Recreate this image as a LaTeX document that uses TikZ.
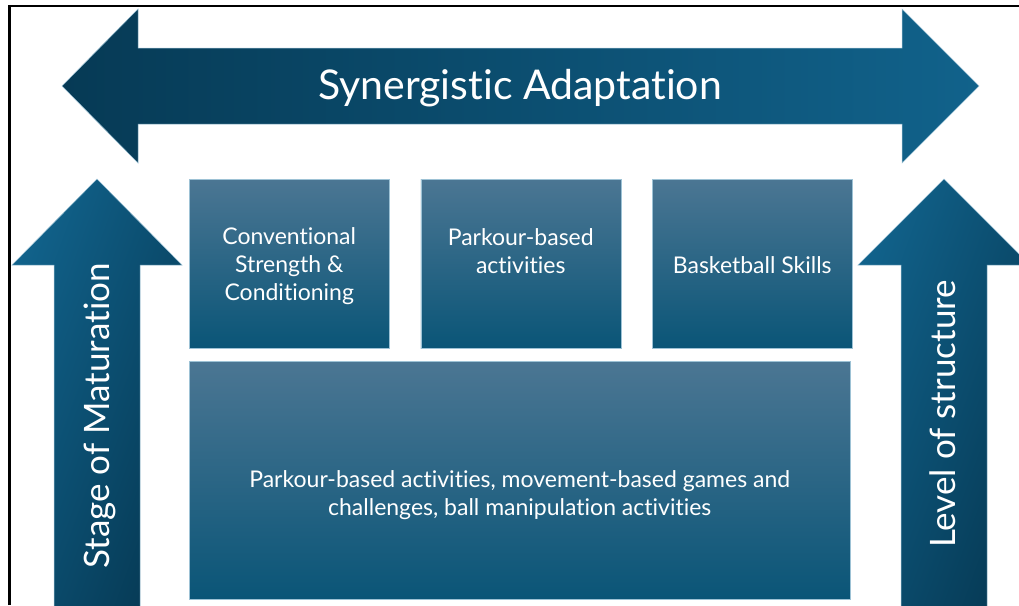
\documentclass[tikz,border=0pt]{standalone}
\usepackage{fontspec}
\setmainfont{Lato}[Ligatures=NoCommon]
\usetikzlibrary{positioning}

\definecolor{navydark}{HTML}{063A55}
\definecolor{navylight}{HTML}{11628B}
\definecolor{boxtop}{HTML}{4B7693}
\definecolor{boxbottom}{HTML}{0A5577}
\definecolor{edgeblue}{HTML}{9DC2D5}

\begin{document}
\begin{tikzpicture}[x=1pt, y=-1pt,
        bigarrow/.style={draw=edgeblue, line width=0.5pt},
        block/.style={draw=edgeblue, line width=0.5pt, top color=boxtop, bottom color=boxbottom,
            anchor=north west, inner sep=0pt},
        blocktext/.style={text=white, align=center, font=\fontsize{23}{28}\selectfont},
        arrowtext/.style={text=white, anchor=base, font=\fontsize{35}{40}\selectfont}
    ]
    \useasboundingbox (0,0) rectangle (1019,605);

    % frame
    \draw[line width=2.2pt] (9.5,605) -- (9.5,6) -- (1019,6);

    % double arrow on top
    \shade[bigarrow, left color=navydark, right color=navylight]
        (62,86) -- (138,9) -- (138,48) -- (902,48) -- (902,9) -- (979,86)
        -- (902,163) -- (902,124) -- (138,124) -- (138,163) -- cycle;
    \node[arrowtext, font=\fontsize{41}{46}\selectfont] (adaptation) at (520,99) {Synergistic Adaptation};

    % up arrows at the sides
    \shade[bigarrow, top color=navylight, bottom color=navydark, shading angle=70]
        (97,179) -- (182,265) -- (140,265) -- (140,615) -- (54,615) -- (54,265) -- (12,265) -- cycle;
    \shade[bigarrow, top color=navylight, bottom color=navydark, shading angle=70]
        (944,179) -- (1030,265) -- (987,265) -- (987,615) -- (901,615) -- (901,265) -- (858,265) -- cycle;
    \node[arrowtext, rotate=90] (maturation) at (109,416) {Stage of Maturation};
    \node[arrowtext, rotate=90] (structure) at (955,414) {Level of structure};

    % blocks
    \node[block, minimum width=200pt, minimum height=169pt] (conditioning) at (189,179) {};
    \node[block, minimum width=200pt, minimum height=169pt, right=31pt of conditioning] (parkour) {};
    \node[block, minimum width=200pt, minimum height=169pt, right=31pt of parkour] (basketball) {};
    \node[block, minimum width=661pt, minimum height=238pt] (games) at (189,361) {};

    \node[blocktext] at ([yshift=-2pt]conditioning.center) {Conventional\\Strength \&\\Conditioning};
    \node[blocktext] at ([yshift=13pt]parkour.center) {Parkour-based\\activities};
    \node[blocktext] at ([yshift=-1pt]basketball.center) {Basketball Skills};
    \node[blocktext] at ([yshift=-15pt]games.center) {Parkour-based activities, movement-based games and\\challenges, ball manipulation activities};

\end{tikzpicture}
\end{document}
